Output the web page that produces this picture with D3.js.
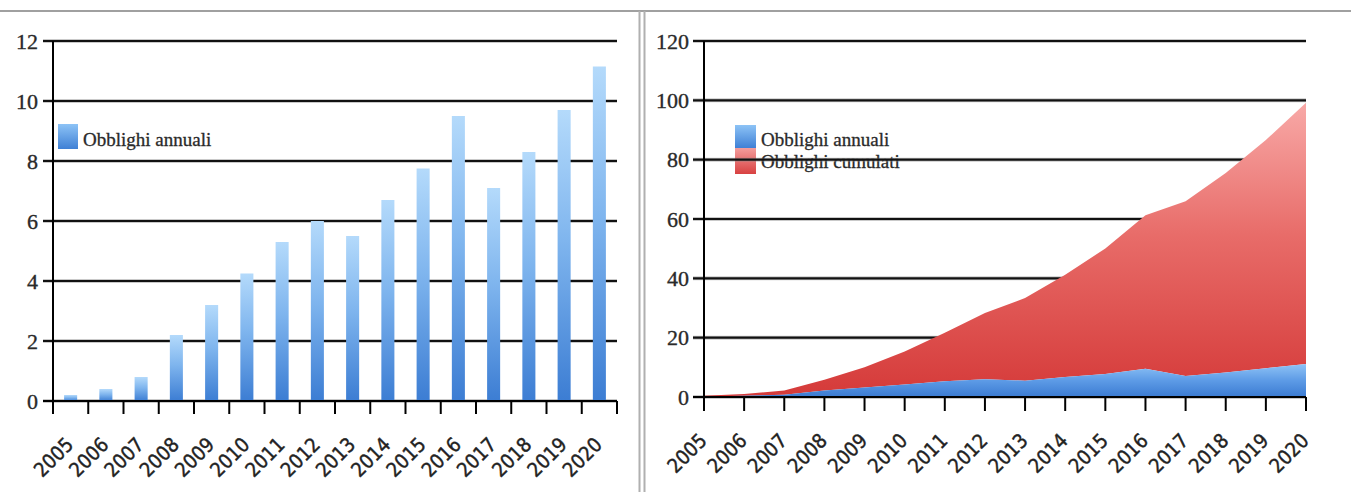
<!DOCTYPE html>
<html>
<head>
<meta charset="utf-8">
<script src="https://cdn.jsdelivr.net/npm/d3@7"></script>
<style>
  html, body { margin: 0; padding: 0; background: #fff; }
  svg { display: block; }
</style>
</head>
<body>
<svg id="chart" width="1351" height="492"></svg>
<script>
// Years on the horizontal axis of both panels
const years = ["2005","2006","2007","2008","2009","2010","2011","2012",
               "2013","2014","2015","2016","2017","2018","2019","2020"];
// Annual obligations (left bars, lower stacked layer on the right)
const annual = [0.2, 0.4, 0.8, 2.2, 3.2, 4.25, 5.3, 6.0,
                5.5, 6.7, 7.75, 9.5, 7.1, 8.3, 9.7, 11.15];
// Cumulative obligations (stacked on top of the annual layer)
const cumulative = [0.2, 0.6, 1.4, 3.6, 6.8, 11.05, 16.35, 22.35,
                    27.85, 34.55, 42.3, 51.8, 58.9, 67.2, 76.9, 88.05];
// Y tick values
const leftTicks = [0, 2, 4, 6, 8, 10, 12];
const rightTicks = [0, 20, 40, 60, 80, 100, 120];
// Legend labels
const leftLegend = ["Obblighi annuali"];
const rightLegend = ["Obblighi annuali", "Obblighi cumulati"];

const svg = d3.select("#chart");
const W = 1351, H = 492;

// ---------- gradients ----------
const defs = svg.append("defs");
function vGrad(id, stops) {
  const g = defs.append("linearGradient").attr("id", id)
    .attr("x1", 0).attr("y1", 0).attr("x2", 0).attr("y2", 1);
  stops.forEach(([o, c]) => g.append("stop").attr("offset", o).attr("stop-color", c));
}
vGrad("barGrad", [[0, "#b4dafb"], [0.45, "#7fb5ee"], [1, "#3c7dd3"]]);
vGrad("blueArea", [[0, "#8fc3f6"], [0.5, "#5d9be6"], [1, "#3b7bd2"]]);
vGrad("redArea", [[0, "#f8a9a7"], [0.45, "#e86c69"], [1, "#d53a39"]]);
vGrad("legBlue", [[0, "#8dc3f6"], [1, "#3f80d5"]]);
vGrad("legRed", [[0, "#f39d9c"], [1, "#d84141"]]);

// ---------- frame ----------
svg.append("line").attr("x1", 0).attr("x2", W).attr("y1", 11).attr("y2", 11)
  .attr("stroke", "#a0a0a0").attr("stroke-width", 2);
[639.5, 644.5].forEach(x =>
  svg.append("line").attr("x1", x).attr("x2", x).attr("y1", 11).attr("y2", H)
    .attr("stroke", "#b0b0b0").attr("stroke-width", 2));

const serif = "'Liberation Serif', 'DejaVu Serif', serif";
const narrow = "'Liberation Sans Narrow', 'DejaVu Sans Condensed', 'Liberation Sans', sans-serif";

function gridlines(g, y, ticks, x0, x1) {
  g.append("g").selectAll("line").data(ticks).join("line")
    .attr("x1", x0).attr("x2", x1)
    .attr("y1", d => y(d)).attr("y2", d => y(d))
    .attr("stroke", "#8a8a8a").attr("stroke-width", 4).attr("opacity", 0.45);
  g.append("g").selectAll("line").data(ticks).join("line")
    .attr("x1", x0).attr("x2", x1)
    .attr("y1", d => y(d)).attr("y2", d => y(d))
    .attr("stroke", "#111").attr("stroke-width", 2.2);
}
function yLabels(g, y, ticks, xAxis) {
  g.append("g").selectAll("text").data(ticks).join("text")
    .attr("x", xAxis - 15).attr("y", d => y(d)).attr("dy", "0.35em")
    .attr("text-anchor", "end")
    .attr("font-family", serif).attr("font-size", 22).attr("fill", "#2a2a2a")
    .attr("stroke", "#2a2a2a").attr("stroke-width", 0.35)
    .text(d => d);
}
function xLabels(g, xPos, base) {
  g.append("g").selectAll("text").data(years).join("text")
    .attr("text-anchor", "end")
    .attr("transform", d => `translate(${xPos(d) + 4},${base + 45}) rotate(-45)`)
    .attr("font-family", narrow).attr("font-size", 20).attr("fill", "#222")
    .attr("stroke", "#222").attr("stroke-width", 0.4)
    .text(d => d);
}
function legend(g, labels, fills, x, y, w, hs, textDy) {
  let yy = y;
  labels.forEach((lab, i) => {
    g.append("rect").attr("x", x).attr("y", yy).attr("width", w).attr("height", hs[i])
      .attr("fill", `url(#${fills[i]})`);
    g.append("text").attr("x", x + w + 5).attr("y", yy + textDy[i])
      .attr("font-family", serif).attr("font-size", 19).attr("fill", "#2a2a2a")
      .attr("stroke", "#2a2a2a").attr("stroke-width", 0.3)
      .text(lab);
    yy += hs[i];
  });
}

// ---------- left panel: annual bars ----------
{
  const g = svg.append("g");
  const x = d3.scaleBand().domain(years).range([53, 617]).paddingInner(0.63).paddingOuter(0.315);
  const y = d3.scaleLinear().domain([0, 12]).range([401, 41]);

  legend(g, leftLegend, ["legBlue"], 58, 124, 20, [25], [22]);
  gridlines(g, y, leftTicks, 43, 617);
  yLabels(g, y, leftTicks, 53);

  g.append("g").selectAll("rect").data(annual).join("rect")
    .attr("x", (d, i) => x(years[i]))
    .attr("width", x.bandwidth())
    .attr("y", d => y(d))
    .attr("height", d => y(0) - y(d))
    .attr("fill", "url(#barGrad)");

  // axes
  g.append("line").attr("x1", 53).attr("x2", 53).attr("y1", 41).attr("y2", 413)
    .attr("stroke", "#000").attr("stroke-width", 2);
  g.append("line").attr("x1", 43).attr("x2", 617).attr("y1", 401).attr("y2", 401)
    .attr("stroke", "#000").attr("stroke-width", 2.2);
  const bounds = years.map(d => x(d) - x.step() * x.paddingInner() / 2);
  bounds.push(617);
  g.append("g").selectAll("line").data(bounds).join("line")
    .attr("x1", d => d).attr("x2", d => d).attr("y1", 401).attr("y2", 414)
    .attr("stroke", "#000").attr("stroke-width", 2);

  xLabels(g, d => x(d) + x.bandwidth() / 2, 401);
}

// ---------- right panel: stacked areas ----------
{
  const g = svg.append("g");
  const x = d3.scalePoint().domain(years).range([704, 1306]);
  const y = d3.scaleLinear().domain([0, 120]).range([397, 41]);

  legend(g, rightLegend, ["legBlue", "legRed"], 735, 125, 21, [23, 26], [21, 43 - 23]);
  gridlines(g, y, rightTicks, 693, 1306);
  yLabels(g, y, rightTicks, 704);

  const rows = years.map((yr, i) => ({ year: yr, annual: annual[i], cumulative: cumulative[i] }));
  const stack = d3.stack().keys(["annual", "cumulative"])(rows);
  const area = d3.area()
    .x(d => x(d.data.year))
    .y0(d => y(d[0]))
    .y1(d => y(d[1]));
  g.append("path").datum(stack[1]).attr("d", area).attr("fill", "url(#redArea)");
  g.append("path").datum(stack[0]).attr("d", area).attr("fill", "url(#blueArea)");

  g.append("line").attr("x1", 704).attr("x2", 704).attr("y1", 41).attr("y2", 410)
    .attr("stroke", "#000").attr("stroke-width", 2);
  g.append("line").attr("x1", 693).attr("x2", 1306).attr("y1", 397).attr("y2", 397)
    .attr("stroke", "#000").attr("stroke-width", 2.2);
  g.append("g").selectAll("line").data(years).join("line")
    .attr("x1", d => x(d)).attr("x2", d => x(d)).attr("y1", 397).attr("y2", 411)
    .attr("stroke", "#000").attr("stroke-width", 2);

  xLabels(g, d => x(d), 397);
}
</script>
</body>
</html>
